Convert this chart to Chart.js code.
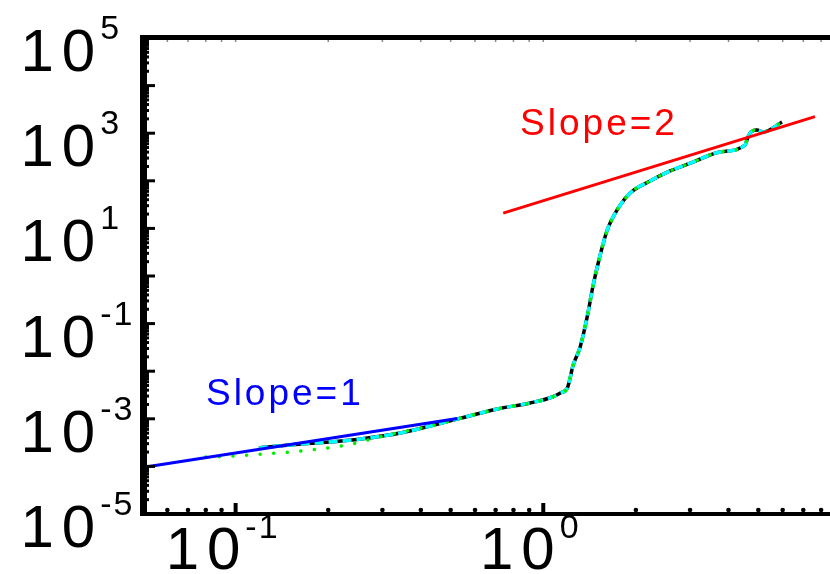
<!DOCTYPE html>
<html>
<head>
<meta charset="utf-8">
<script src="https://cdn.jsdelivr.net/npm/chart.js@4.4.0/dist/chart.umd.min.js"></script>
<style>
html, body { margin: 0; padding: 0; background: #fff; }
#wrap { width: 830px; height: 574px; }
</style>
</head>
<body>
<div id="wrap"><canvas id="slopeChart" width="830" height="574"></canvas></div>
<script>
// measured curve (black solid + cyan dashed on top)
var curveX = [0.119, 0.163, 0.208, 0.255, 0.343, 0.526, 0.709, 0.907, 1.07, 1.136, 1.197, 1.251, 1.318, 1.389, 1.453, 1.531, 1.614, 1.738, 1.916, 2.224, 2.584, 3.07, 3.75, 4.53, 4.59, 4.70, 4.95, 5.18, 5.97];
var curveY = [2.44e-4, 2.96e-4, 3.3e-4, 3.77e-4, 5.03e-4, 9.9e-4, 1.61e-3, 2.15e-3, 2.87e-3, 3.48e-3, 4.44e-3, 0.0135, 0.0322, 0.138, 0.647, 2.76, 9.25, 24.4, 55.4, 99, 161, 248, 403, 565, 720, 1009, 1167, 1059, 1719];

// green dotted curve (splits off below at small x)
var dotX = [0.080, 0.099, 0.122, 0.152, 0.187, 0.231, 0.312, 0.430, 0.526, 0.709, 0.907, 1.07, 1.136, 1.197, 1.251, 1.318, 1.389, 1.453, 1.531, 1.614, 1.738, 1.916, 2.224, 2.584, 3.07, 3.75, 4.53, 4.59, 4.70, 4.95, 5.18, 5.97];
var dotY = [1.57e-4, 1.65e-4, 1.82e-4, 2.01e-4, 2.32e-4, 2.82e-4, 4.57e-4, 7.06e-4, 9.9e-4, 1.61e-3, 2.15e-3, 2.87e-3, 3.48e-3, 4.44e-3, 0.0135, 0.0322, 0.138, 0.647, 2.76, 9.25, 24.4, 55.4, 99, 161, 248, 403, 565, 720, 1009, 1167, 1059, 1719];

// guide lines
var slope1X = [0.0522, 0.526];
var slope1Y = [1.0e-4, 1.01e-3];
var slope2X = [0.741, 7.64];
var slope2Y = [21, 2230];

// labelled powers of ten
var xTickExp = [-1, 0];
var yTickExp = [5, 3, 1, -1, -3, -5];

// text notes
var noteText = ["Slope=1", "Slope=2"];
var noteX = [0.0801, 0.8406];
var noteY = [1.95e-3, 916];
var noteColor = ['#0000ff', '#ff0000'];

var FONT = '"Liberation Sans", Arial, sans-serif';

function pts(xs, ys) {
    var out = [];
    for (var i = 0; i < xs.length; i++) out.push({ x: xs[i], y: ys[i] });
    return out;
}

function setFont(ctx, size, spacing) {
    ctx.font = size + 'px ' + FONT;
    ctx.letterSpacing = spacing + 'px';
}

// width without the trailing letter spacing
function textW(ctx, str, size, spacing) {
    setFont(ctx, size, spacing);
    var w = ctx.measureText(str).width;
    ctx.letterSpacing = '0px';
    var w0 = ctx.measureText(str).width;
    return w > w0 + 0.5 ? w - spacing : w0;
}

function drawText(ctx, str, x, y, size, spacing) {
    setFont(ctx, size, spacing);
    ctx.textAlign = 'left';
    ctx.textBaseline = 'alphabetic';
    ctx.fillText(str, x, y);
    ctx.letterSpacing = '0px';
}

// frame, inward ticks, 10^n labels and notes
var framePlugin = {
    id: 'frame',
    afterDatasetsDraw: function (chart) {
        var ctx = chart.ctx;
        var a = chart.chartArea;
        var xs = chart.scales.x, ys = chart.scales.y;
        var d, m, v, p;
        ctx.save();
        ctx.strokeStyle = '#000';
        ctx.fillStyle = '#000';

        // y ticks
        for (d = -5; d <= 4; d++) {
            for (m = 1; m <= 9; m++) {
                v = m * Math.pow(10, d);
                p = ys.getPixelForValue(v);
                ctx.beginPath();
                ctx.lineWidth = 3;
                ctx.moveTo(a.left, p);
                ctx.lineTo(a.left + (m === 1 ? 12 : 6), p);
                ctx.stroke();
            }
        }
        // x ticks
        for (d = -2; d <= 1; d++) {
            for (m = 1; m <= 9; m++) {
                v = m * Math.pow(10, d);
                if (v < xs.min || v > xs.max) continue;
                p = xs.getPixelForValue(v);
                if (m === 1) {
                    ctx.beginPath();
                    ctx.lineWidth = 4;
                    ctx.moveTo(p, a.bottom);
                    ctx.lineTo(p, a.bottom - 11);
                    ctx.stroke();
                } else {
                    ctx.beginPath();
                    ctx.arc(p, a.bottom - 4, 2.3, 0, Math.PI * 2);
                    ctx.fill();
                }
                ctx.beginPath();
                ctx.lineWidth = 1.5;
                ctx.strokeStyle = '#888';
                ctx.moveTo(p, a.top);
                ctx.lineTo(p, a.top + 4);
                ctx.stroke();
                ctx.strokeStyle = '#000';
            }
        }

        // axis lines
        ctx.lineCap = 'butt';
        ctx.lineWidth = 7;
        ctx.beginPath();
        ctx.moveTo(a.left + 0.5, a.top - 3);
        ctx.lineTo(a.left + 0.5, a.bottom + 2);
        ctx.stroke();
        ctx.lineWidth = 4;
        ctx.beginPath();
        ctx.moveTo(a.left - 3, a.bottom);
        ctx.lineTo(a.right, a.bottom);
        ctx.stroke();
        ctx.lineWidth = 5;
        ctx.beginPath();
        ctx.moveTo(a.left - 3, a.top - 0.5);
        ctx.lineTo(a.right, a.top - 0.5);
        ctx.stroke();

        // y labels
        var w10 = textW(ctx, '10', 60, 8);
        yTickExp.forEach(function (e) {
            var py = ys.getPixelForValue(Math.pow(10, e));
            drawText(ctx, '10', 20.5, py + 33, 60, 8);
            drawText(ctx, String(e), 20.5 + w10 + 5, py + 1, 34, 2);
        });
        // x labels
        xTickExp.forEach(function (e) {
            var px = xs.getPixelForValue(Math.pow(10, e));
            var we = textW(ctx, String(e), 34, 2);
            var x0 = px - 14 - (w10 + 5 + we) / 2;
            drawText(ctx, '10', x0, 569, 60, 8);
            drawText(ctx, String(e), x0 + w10 + 5, 538, 34, 2);
        });

        // notes
        for (var i = 0; i < noteText.length; i++) {
            ctx.fillStyle = noteColor[i];
            drawText(ctx, noteText[i], xs.getPixelForValue(noteX[i]), ys.getPixelForValue(noteY[i]), 37, 3);
        }
        ctx.restore();
    }
};

var ctxS = document.getElementById('slopeChart').getContext('2d');

var slopeChart = new Chart(ctxS, {
    type: 'scatter',
    data: {
        datasets: [{
            label: 'Slope=1',
            data: pts(slope1X, slope1Y),
            showLine: true,
            borderColor: '#0000ff',
            borderWidth: 3,
            order: 0
        }, {
            label: 'Slope=2',
            data: pts(slope2X, slope2Y),
            showLine: true,
            borderColor: '#ff0000',
            borderWidth: 3,
            order: 1
        }, {
            label: 'dotted',
            data: pts(dotX, dotY),
            showLine: true,
            borderColor: '#00ee00',
            borderWidth: 3.5,
            borderDash: [0.1, 13.5],
            borderCapStyle: 'round',
            cubicInterpolationMode: 'monotone',
            order: 2
        }, {
            label: 'dashed',
            data: pts(curveX, curveY),
            showLine: true,
            borderColor: '#00ffff',
            borderWidth: 3.5,
            borderDash: [9, 5],
            cubicInterpolationMode: 'monotone',
            order: 3
        }, {
            label: 'solid',
            data: pts(curveX, curveY),
            showLine: true,
            borderColor: '#000000',
            borderWidth: 3.5,
            cubicInterpolationMode: 'monotone',
            order: 4
        }]
    },
    options: {
        responsive: false,
        animation: false,
        layout: {
            padding: { left: 143, top: 38, right: 0, bottom: 60 }
        },
        elements: {
            point: { radius: 0, hoverRadius: 0 }
        },
        plugins: {
            legend: { display: false },
            tooltip: { enabled: false }
        },
        scales: {
            x: { type: 'logarithmic', min: 0.05, max: 8.55, display: false },
            y: { type: 'logarithmic', min: 1e-5, max: 1e5, display: false }
        }
    },
    plugins: [framePlugin]
});
</script>
</body>
</html>
